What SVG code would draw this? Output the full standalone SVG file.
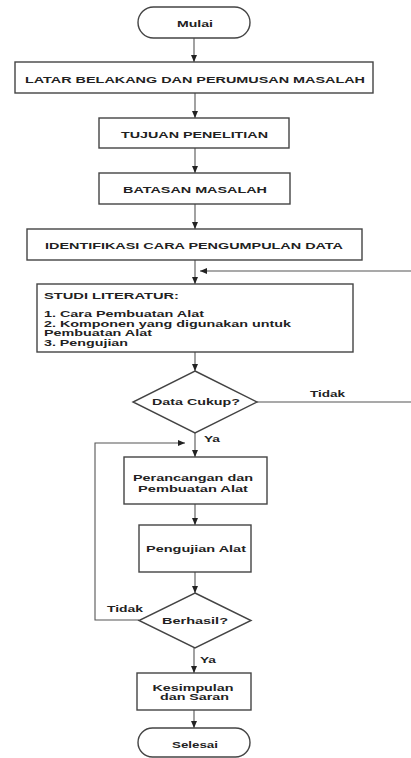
<svg xmlns="http://www.w3.org/2000/svg" width="411" height="758" viewBox="0 0 411 758">
<defs>
<marker id="ah" markerWidth="8" markerHeight="6" refX="7" refY="3" orient="auto" markerUnits="userSpaceOnUse">
<path d="M0,0 L7,3 L0,6 Z" fill="#222"/>
</marker>
<style>
.n{fill:#fff;stroke:#444;stroke-width:1.4}
.c{fill:none;stroke:#555;stroke-width:1.1}
.t{font-family:"Liberation Sans",Arial,sans-serif;font-weight:bold;font-size:9.5px;fill:#222}
.s{font-size:8.3px}
.m{text-anchor:middle}
</style>
</defs>
<rect width="411" height="758" fill="#fff"/>
<g id="connectors">
<line class="c" x1="194" y1="38" x2="194" y2="62" marker-end="url(#ah)"/>
<line class="c" x1="195" y1="93" x2="195" y2="118" marker-end="url(#ah)"/>
<line class="c" x1="195" y1="148" x2="195" y2="173" marker-end="url(#ah)"/>
<line class="c" x1="195" y1="204" x2="195" y2="229" marker-end="url(#ah)"/>
<line class="c" x1="195" y1="260" x2="195" y2="284" marker-end="url(#ah)"/>
<line class="c" x1="411" y1="271" x2="200" y2="271" marker-end="url(#ah)"/>
<line class="c" x1="195" y1="352" x2="195" y2="371" marker-end="url(#ah)"/>
<line class="c" x1="257" y1="402" x2="411" y2="402"/>
<line class="c" x1="195" y1="433" x2="195" y2="457" marker-end="url(#ah)"/>
<line class="c" x1="195" y1="504" x2="195" y2="525" marker-end="url(#ah)"/>
<line class="c" x1="195" y1="572" x2="195" y2="593" marker-end="url(#ah)"/>
<polyline class="c" points="139,620 95,620 95,443 185,443" marker-end="url(#ah)"/>
<line class="c" x1="194" y1="648" x2="194" y2="673" marker-end="url(#ah)"/>
<line class="c" x1="194" y1="710" x2="194" y2="728" marker-end="url(#ah)"/>
<text class="t" x="310" y="397" textLength="35" lengthAdjust="spacingAndGlyphs">Tidak</text>
<text class="t" x="204" y="442" textLength="16" lengthAdjust="spacingAndGlyphs">Ya</text>
<text class="t" x="107" y="612" textLength="36" lengthAdjust="spacingAndGlyphs">Tidak</text>
<text class="t" x="200" y="663" textLength="16" lengthAdjust="spacingAndGlyphs">Ya</text>
</g>
<g id="mulai">
<rect class="n" x="138" y="7" width="112" height="31" rx="15.5"/>
<text class="t m" x="195" y="27.3" textLength="36" lengthAdjust="spacingAndGlyphs">Mulai</text>
</g>
<g id="latar">
<rect class="n" x="15" y="62" width="358" height="31"/>
<text class="t m" x="195" y="82.5" textLength="340" lengthAdjust="spacingAndGlyphs">LATAR BELAKANG DAN PERUMUSAN MASALAH</text>
</g>
<g id="tujuan">
<rect class="n" x="99" y="118" width="190" height="30"/>
<text class="t m" x="194.5" y="137.6" textLength="147" lengthAdjust="spacingAndGlyphs">TUJUAN PENELITIAN</text>
</g>
<g id="batasan">
<rect class="n" x="99" y="173" width="191" height="31"/>
<text class="t m" x="195" y="193.3" textLength="144" lengthAdjust="spacingAndGlyphs">BATASAN MASALAH</text>
</g>
<g id="identifikasi">
<rect class="n" x="27" y="229" width="335" height="31"/>
<text class="t m" x="194" y="249" textLength="298" lengthAdjust="spacingAndGlyphs">IDENTIFIKASI CARA PENGUMPULAN DATA</text>
</g>
<g id="studi">
<rect class="n" x="37" y="284" width="316" height="68"/>
<text class="t" x="44" y="299.3" textLength="135" lengthAdjust="spacingAndGlyphs">STUDI LITERATUR:</text>
<text class="t s" x="44" y="317" textLength="160" lengthAdjust="spacingAndGlyphs">1. Cara Pembuatan Alat</text>
<text class="t s" x="44" y="326.5" textLength="247" lengthAdjust="spacingAndGlyphs">2. Komponen yang digunakan untuk</text>
<text class="t s" x="44" y="336" textLength="108" lengthAdjust="spacingAndGlyphs">Pembuatan Alat</text>
<text class="t s" x="44" y="345.5" textLength="84" lengthAdjust="spacingAndGlyphs">3. Pengujian</text>
</g>
<g id="datacukup">
<polygon class="n" points="195,371 257,402 195,433 133,402"/>
<text class="t m" x="196" y="405.3" textLength="88" lengthAdjust="spacingAndGlyphs">Data Cukup?</text>
</g>
<g id="perancangan">
<rect class="n" x="124" y="457" width="143" height="47"/>
<text class="t m" x="193" y="481" textLength="120" lengthAdjust="spacingAndGlyphs">Perancangan dan</text>
<text class="t m" x="193" y="491.5" textLength="110" lengthAdjust="spacingAndGlyphs">Pembuatan Alat</text>
</g>
<g id="pengujian">
<rect class="n" x="139" y="525" width="112" height="47"/>
<text class="t m" x="196" y="552.3" textLength="100" lengthAdjust="spacingAndGlyphs">Pengujian Alat</text>
</g>
<g id="berhasil">
<polygon class="n" points="195,593 251,620.5 195,648 139,620.5"/>
<text class="t m" x="195" y="624" textLength="66" lengthAdjust="spacingAndGlyphs">Berhasil?</text>
</g>
<g id="kesimpulan">
<rect class="n" x="137" y="673" width="114" height="37"/>
<text class="t m" x="193" y="690.5" textLength="81" lengthAdjust="spacingAndGlyphs">Kesimpulan</text>
<text class="t m" x="194.5" y="700" textLength="69" lengthAdjust="spacingAndGlyphs">dan Saran</text>
</g>
<g id="selesai">
<rect class="n" x="138" y="728" width="112" height="29" rx="14.5"/>
<text class="t m" x="195" y="747.5" textLength="46" lengthAdjust="spacingAndGlyphs">Selesai</text>
</g>
</svg>
